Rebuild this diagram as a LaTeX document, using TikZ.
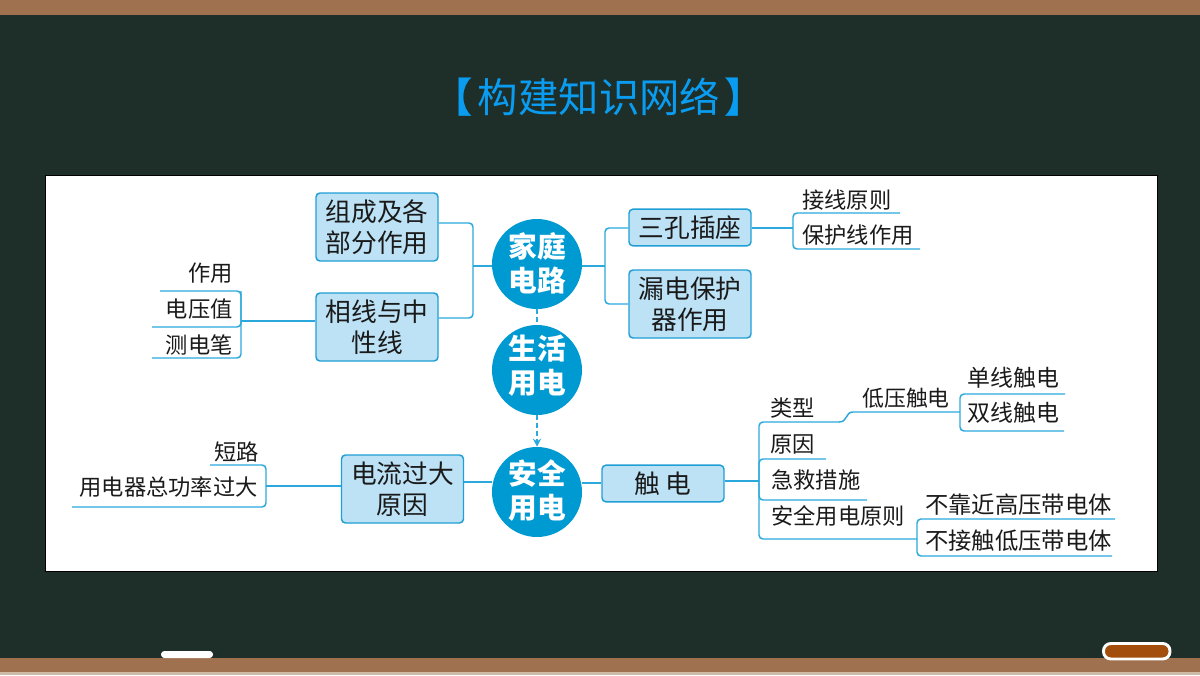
\documentclass[tikz,border=0pt]{standalone}
\usepackage{fontspec}
\setmainfont{Noto Sans CJK SC}
\usetikzlibrary{arrows.meta}
\definecolor{board}{HTML}{1E2F2A}
\definecolor{wood}{HTML}{A0714F}
\definecolor{woodlight}{HTML}{CDBBA8}
\definecolor{pillfill}{HTML}{A34E0C}
\definecolor{titleblue}{HTML}{0A9CF0}
\definecolor{boxfill}{HTML}{BDE2F5}
\definecolor{boxline}{HTML}{1F9FD6}
\definecolor{circfill}{HTML}{009AD3}
\definecolor{conline}{HTML}{2BA9DD}
\definecolor{ink}{HTML}{1A1A1A}
\newcommand{\hubtext}[2]{\raisebox{#1}[0pt][0pt]{\begin{tabular}[c]{@{}c@{}}#2\end{tabular}}}
\tikzset{
  x=0.75pt,y=-0.75pt,
  topicbox/.style={draw=boxline,fill=boxfill,line width=1.1pt,rounded corners=3pt,inner sep=0pt,
    minimum width=91.5pt,text=ink,align=center,font=\fontsize{19.3}{23.25}\selectfont},
  hub/.style={circle,fill=circfill,minimum size=67.5pt,inner sep=0pt,text=white,
    font=\fontsize{21.5}{24.5}\selectfont\bfseries},
  leaf/.style={inner sep=0pt,text=ink,font=\fontsize{16.7}{20}\selectfont},
  leafs/.style={inner sep=0pt,text=ink,font=\fontsize{16.4}{20}\selectfont},
  leafb/.style={inner sep=0pt,text=ink,font=\fontsize{17.2}{20}\selectfont},
  leafc/.style={inner sep=0pt,text=ink,font=\fontsize{17.5}{20}\selectfont},
  conn/.style={draw=conline,line width=1.1pt,rounded corners=3pt},
  dashconn/.style={draw=conline,line width=1.2pt,dashed,dash pattern=on 3.5pt off 2.5pt},
}
\begin{document}
\begin{tikzpicture}
\useasboundingbox (0,0) rectangle (1200,675);
% board
\fill[board] (0,0) rectangle (1200,675);
\fill[wood] (0,0) rectangle (1200,15);
\fill[wood] (0,658) rectangle (1200,672);
\fill[woodlight] (0,672) rectangle (1200,675);
\fill[white,rounded corners=2.5pt] (161,651) rectangle (213,658);
\draw[white,fill=pillfill,line width=2.2pt,rounded corners=5.5pt] (1103.5,643.5) rectangle (1170,659);
% title
\node[text=titleblue,inner sep=0pt,font=\fontsize{30.3}{34}\selectfont] (title) at (599,97) {{\bfseries 【}\hspace{3.5pt}构建知识网络\hspace{3.5pt}{\bfseries 】}};
% panel
\draw[black,fill=white,line width=0.7pt] (45,175) rectangle (1157,571);
% hubs
\node[hub] (c1) at (537,264) {\hubtext{-7.5pt}{家庭\\电路}};
\node[hub] (c2) at (537,370) {\hubtext{-4.5pt}{生活\\用电}};
\node[hub] (c3) at (537,492) {\hubtext{-6.4pt}{安全\\用电}};
% boxes
\node[topicbox,minimum height=51pt] (zucheng) at (377,227) {组成及各\\部分作用};
\node[topicbox,minimum height=51pt] (xiangxian) at (377,327) {相线与中\\性线};
\node[topicbox,minimum height=27.5pt] (sankong) at (690,227.5) {三孔插座};
\node[topicbox,minimum height=51pt] (loudian) at (690,304) {漏电保护\\器作用};
\node[topicbox,minimum height=51pt] (dianliu) at (402.5,489) {电流过大\\原因};
\node[topicbox,minimum height=27.5pt] (chudian) at (663,483.5) {触 电};
% left leaves
\node[leaf,anchor=east] (zuoyong) at (233,273) {作用};
\node[leaf,anchor=east] (dianya) at (233,309) {电压值};
\node[leaf,anchor=east] (cedian) at (233,345) {测电笔};
% right top leaves
\node[leaf,anchor=west] (jiexian) at (802,200) {接线原则};
\node[leaf,anchor=west] (baohu) at (802,235) {保护线作用};
% bottom left leaves
\node[leaf,anchor=east] (duanlu) at (259,452) {短路};
\node[leaf,anchor=east] (zonggong) at (258,487) {用电器总功率过大};
% bottom right leaves
\node[leaf,anchor=west] (leixing) at (770,408) {类型};
\node[leaf,anchor=west] (yuanyin) at (770,444) {原因};
\node[leaf,anchor=west] (jijiu) at (771,480) {急救措施};
\node[leaf,anchor=west] (yuanze) at (771,516) {安全用电原则};
\node[leafs,anchor=west] (diya) at (862,398) {低压触电};
\node[leafb,anchor=west] (danxian) at (967,378) {单线触电};
\node[leafb,anchor=west] (shuangxian) at (967,413) {双线触电};
\node[leafc,anchor=west] (bukao) at (925,505) {不靠近高压带电体};
\node[leafc,anchor=west] (bujie) at (925,541) {不接触低压带电体};
% junction coordinates
\coordinate (jl) at (473,266);
\coordinate (jla) at (473,223);
\coordinate (jlb) at (473,318);
\coordinate (jr) at (605,266);
\coordinate (jra) at (605,228);
\coordinate (jrb) at (605,304);
\coordinate (lf) at (241,321);
\coordinate (lfa) at (160,291);
\coordinate (lfm) at (152,327);
\coordinate (lfb) at (152,358);
\coordinate (rt) at (793,228);
\coordinate (rta) at (900,213);
\coordinate (rtb) at (920,249);
\coordinate (bl) at (266,486);
\coordinate (bla) at (210,465);
\coordinate (blb) at (72,507);
\coordinate (da) at (464,482);
\coordinate (dc) at (602,483);
\coordinate (tr) at (759,481);
\coordinate (tra) at (839,422);
\coordinate (trd) at (853,412);
\coordinate (tre) at (960,412);
\coordinate (trea) at (1065,394);
\coordinate (treb) at (1064,431);
\coordinate (trm) at (826,459);
\coordinate (trn) at (867,500);
\coordinate (trf) at (917,539);
\coordinate (trfa) at (1115,519);
\coordinate (trfb) at (1112,556);
% hub links
\draw[dashconn] (c1.south) -- (c2.north);
\draw[dashconn,-{Stealth[length=6pt,width=6pt]}] (c2.south) -- (c3.north);
% left trunk
\draw[conn] (c1.west |- jl) -- (jl);
\draw[conn] (zucheng.east |- jla) -- (jla) -- (jlb) -- (xiangxian.east |- jlb);
% right trunk
\draw[conn] (c1.east |- jr) -- (jr);
\draw[conn] (sankong.west |- jra) -- (jra) -- (jrb) -- (loudian.west);
% xiangxian leaves
\draw[conn] (xiangxian.west |- lf) -- (lf);
\draw[conn] (lfa) -- (lf |- lfa) -- (lf |- lfb) -- (lfb);
\draw[conn] (lfm) -- (lf |- lfm) -- (lf |- lfa);
% sankong leaves
\draw[conn] (sankong.east |- rt) -- (rt);
\draw[conn] (rta) -- (rt |- rta) -- (rt |- rtb) -- (rtb);
% dianliu
\draw[conn] (dianliu.east |- da) -- (c3.west |- da);
\draw[conn] (dianliu.west |- bl) -- (bl);
\draw[conn] (bla) -- (bl |- bla) -- (bl |- blb) -- (blb);
% chudian
\draw[conn] (c3.east |- dc) -- (chudian.west |- dc);
\draw[conn] (chudian.east |- tr) -- (tr);
\draw[conn,sharp corners] (tre) -- (trd) .. controls (845,412) and (848,422) .. (tra);
\draw[conn] (tra) -- (tr |- tra) -- (tr |- trf) -- (trf);
\draw[conn] (trm) -- (tr |- trm) -- (tr |- trn) -- (trn);
% low-voltage leaves
\draw[conn] (trea) -- (tre |- trea) -- (tre |- treb) -- (treb);
% principle leaves
\draw[conn] (trfa) -- (trf |- trfa) -- (trf |- trfb) -- (trfb);
\end{tikzpicture}
\end{document}
